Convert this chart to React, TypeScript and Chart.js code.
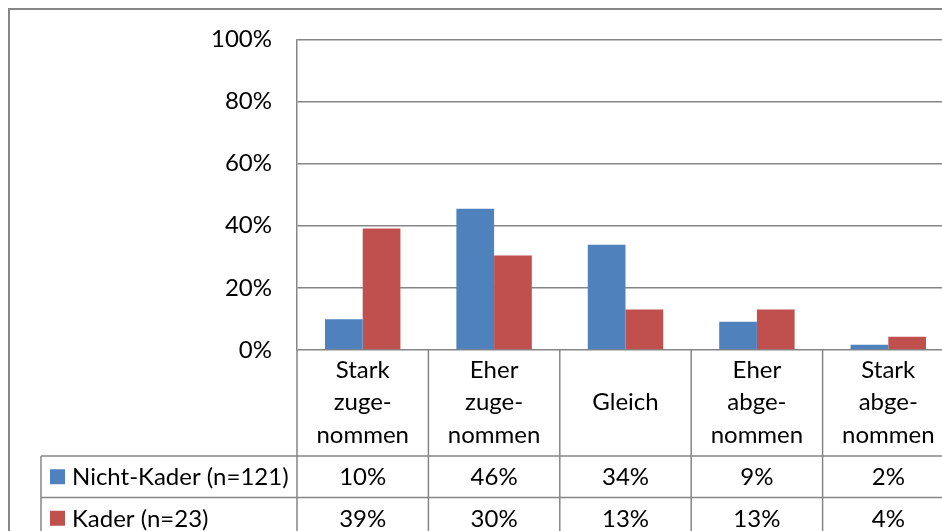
import React, { useEffect, useRef } from "react";
import { Chart, registerables } from "chart.js";

Chart.register(...registerables);

// ---- data ----
const categories: string[][] = [
  ["Stark", "zuge-", "nommen"],
  ["Eher", "zuge-", "nommen"],
  ["Gleich"],
  ["Eher", "abge-", "nommen"],
  ["Stark", "abge-", "nommen"],
];
const seriesNames = ["Nicht-Kader (n=121)", "Kader (n=23)"];
const nichtKader = [9.9, 45.5, 33.9, 9.1, 1.7];
const kader = [39.1, 30.4, 13.0, 13.0, 4.3];
const yTickStep = 20;
const yMax = 100;

// ---- style ----
const BLUE = "#4F81BD";
const RED = "#C0504D";
const GRID = "#868686";
const FONT = "Lato, 'Open Sans', sans-serif";
const FONT_SIZE = 24;
const CANVAS_W = 960;
const CANVAS_H = 531;

const tablePlugin = {
  id: "dataTable",
  afterDraw(chart: any) {
    const ctx: CanvasRenderingContext2D = chart.ctx;
    const ca = chart.chartArea;
    const xs = chart.scales.x;
    const W = chart.width;
    const H = chart.height;
    const n = categories.length;
    const half = (xs.getPixelForValue(1) - xs.getPixelForValue(0)) / 2;
    const bounds: number[] = [];
    for (let i = 0; i < n; i++) bounds.push(xs.getPixelForValue(i) - half);
    bounds.push(xs.getPixelForValue(n - 1) + half);
    const headerBottom = xs.bottom;
    const rowH = 41.5;
    const tableLeft = 41;

    const line = (x1: number, y1: number, x2: number, y2: number) => {
      ctx.beginPath();
      ctx.moveTo(x1, y1);
      ctx.lineTo(x2, y2);
      ctx.stroke();
    };

    ctx.save();
    ctx.strokeStyle = GRID;
    ctx.lineWidth = 1.5;
    bounds.forEach((b) => line(b, ca.bottom, b, H));
    line(tableLeft, headerBottom, tableLeft, H);
    line(tableLeft, headerBottom, bounds[n], headerBottom);
    line(tableLeft, headerBottom + rowH, bounds[n], headerBottom + rowH);

    const rows = [nichtKader, kader];
    const cols = [BLUE, RED];
    ctx.font = `${FONT_SIZE}px ${FONT}`;
    ctx.textBaseline = "middle";
    rows.forEach((vals, r) => {
      const cy = headerBottom + rowH * r + rowH / 2;
      ctx.fillStyle = cols[r];
      ctx.fillRect(tableLeft + 9, cy - 7.5, 15, 15);
      ctx.fillStyle = "#000";
      ctx.textAlign = "left";
      ctx.fillText(seriesNames[r], tableLeft + 31, cy + 1);
      ctx.textAlign = "center";
      vals.forEach((v, i) => {
        ctx.fillText(Math.round(v) + "%", xs.getPixelForValue(i), cy + 1);
      });
    });

    // outer chart border
    ctx.strokeStyle = "#868686";
    ctx.lineWidth = 2;
    ctx.strokeRect(9, 9, W + 20, H + 20);
    ctx.restore();
  },
};

export default function App() {
  const ref = useRef<HTMLCanvasElement | null>(null);

  useEffect(() => {
    if (!ref.current) return;
    const chart = new Chart(ref.current, {
      type: "bar",
      data: {
        labels: categories as any,
        datasets: [
          {
            label: seriesNames[0],
            data: nichtKader,
            backgroundColor: BLUE,
            borderWidth: 0,
            categoryPercentage: 0.574,
            barPercentage: 1,
          },
          {
            label: seriesNames[1],
            data: kader,
            backgroundColor: RED,
            borderWidth: 0,
            categoryPercentage: 0.574,
            barPercentage: 1,
          },
        ],
      },
      options: {
        responsive: false,
        animation: false,
        devicePixelRatio: 1,
        layout: { padding: { top: 38, bottom: 75, left: 0, right: CANVAS_W - 954 } },
        plugins: {
          legend: { display: false },
          tooltip: { enabled: false },
        },
        scales: {
          x: {
            grid: { display: false, drawTicks: false },
            border: { display: false },
            ticks: {
              color: "#000",
              font: { family: FONT, size: FONT_SIZE, lineHeight: 1.35 },
              padding: 20,
              crossAlign: "center",
              maxRotation: 0,
              autoSkip: false,
            },
            afterFit: (s: any) => {
              s.height = 106;
            },
          },
          y: {
            min: 0,
            max: yMax,
            grid: { color: GRID, lineWidth: 1.5, drawTicks: false },
            border: { color: GRID, width: 1.5 },
            ticks: {
              stepSize: yTickStep,
              color: "#000",
              padding: 25,
              font: { family: FONT, size: FONT_SIZE },
              callback: (v: any) => v + "%",
            },
            afterFit: (s: any) => {
              s.width = 297;
            },
          },
        },
      },
      plugins: [tablePlugin],
    });
    return () => chart.destroy();
  }, []);

  return (
    <div
      style={{
        position: "absolute",
        left: 0,
        top: 0,
        width: 942,
        height: 531,
        overflow: "hidden",
        background: "#fff",
      }}
    >
      <canvas ref={ref} width={CANVAS_W} height={CANVAS_H} style={{ display: "block" }} />
    </div>
  );
}
